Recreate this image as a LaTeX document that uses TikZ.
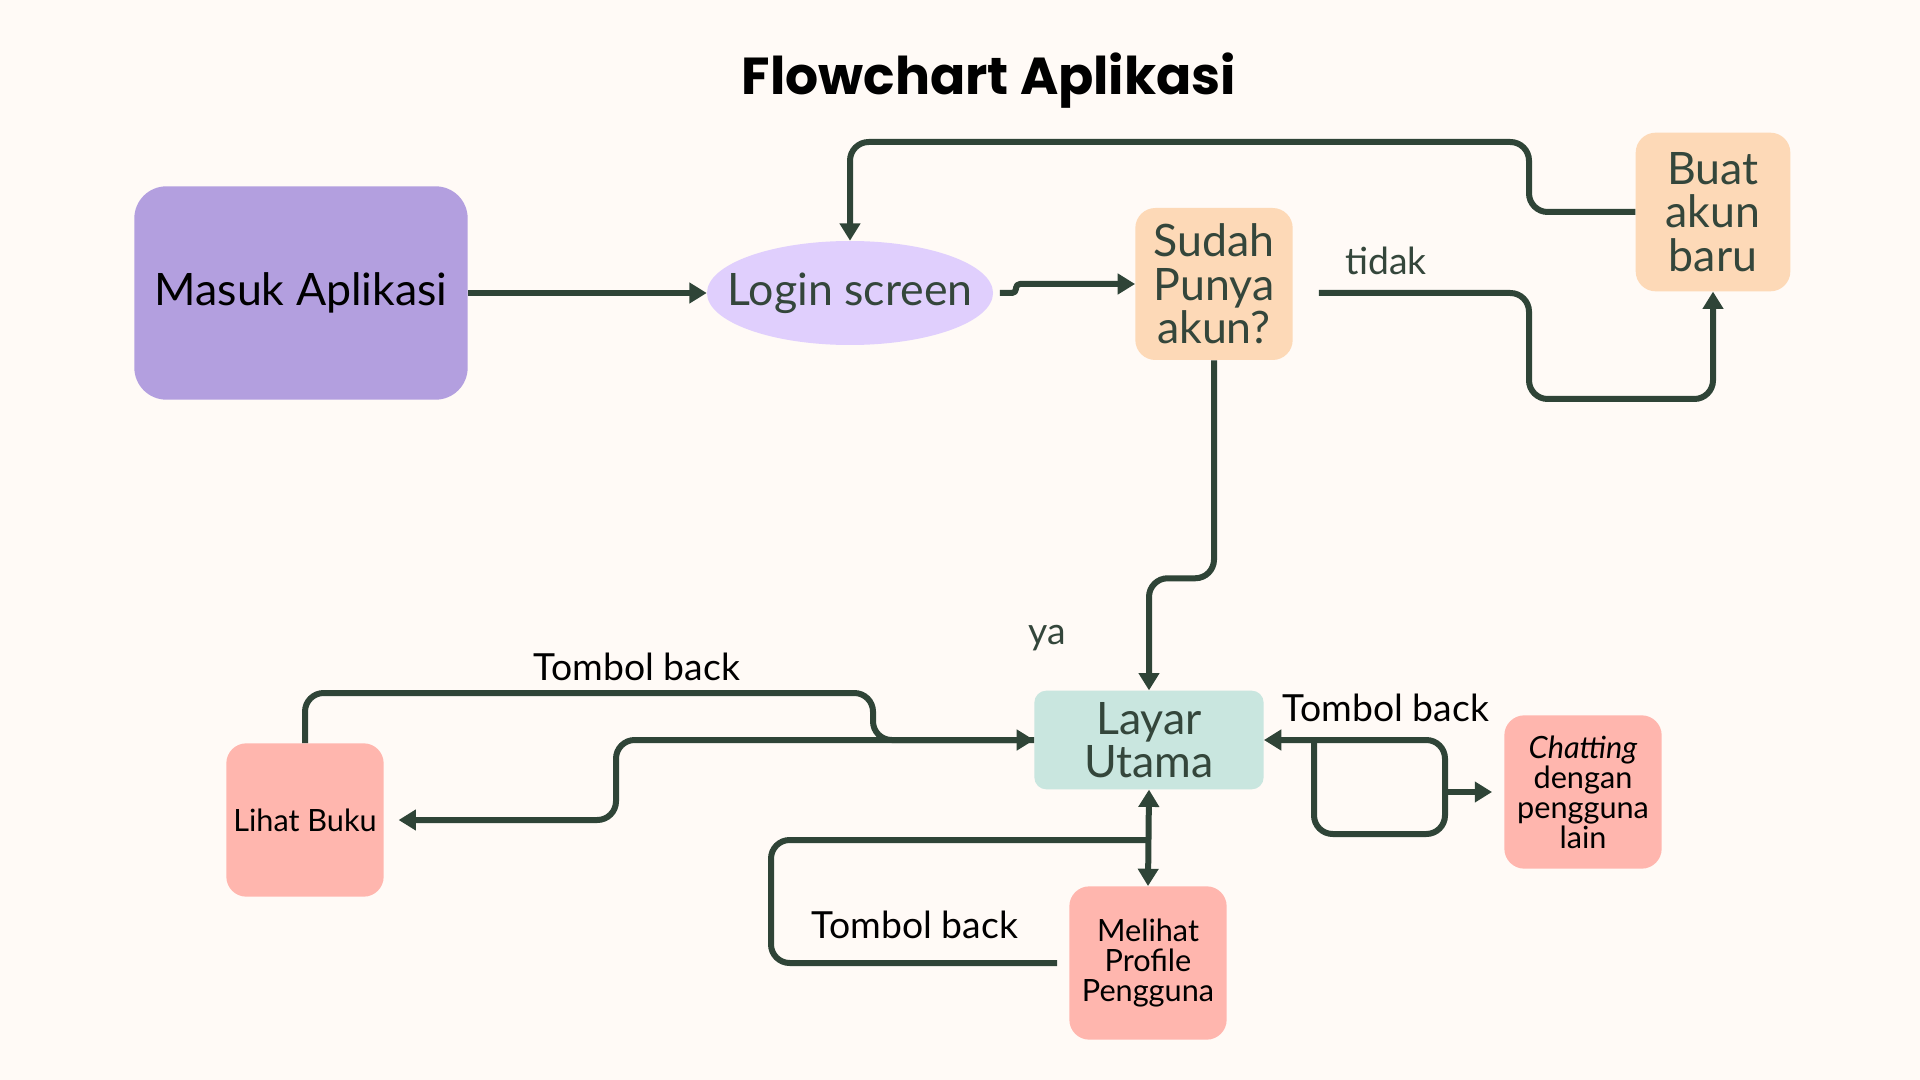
\documentclass[tikz,border=0pt]{standalone}
\usepackage{fontspec}
\setmainfont{Lato}
\newfontfamily\titlefont{Poppins}
\usetikzlibrary{shapes.geometric,arrows.meta}
\definecolor{bgcol}{HTML}{FFFAF6}
\definecolor{linecol}{HTML}{2F4437}
\definecolor{txtcol}{HTML}{34463B}
\definecolor{purplecol}{HTML}{B39FDF}
\definecolor{lavcol}{HTML}{E0CFFD}
\definecolor{peachcol}{HTML}{FDD9B7}
\definecolor{mintcol}{HTML}{C9E6DF}
\definecolor{salmoncol}{HTML}{FFB6AE}
\begin{document}
\begin{tikzpicture}[x=0.75pt,y=-0.75pt,
  main node/.style={rounded corners=15pt,inner sep=0pt,align=center,text=txtcol,font=\fontsize{33.5}{32.5}\selectfont},
  small node/.style={rounded corners=15pt,inner sep=0pt,align=center,fill=salmoncol,minimum width=118pt,minimum height=115pt,font=\fontsize{23}{22.5}\selectfont},
  label text/.style={font=\fontsize{28}{30}\selectfont},
  flow/.style={line width=4.5pt,draw=linecol,rounded corners=14pt,line join=round},
  arrow/.style={flow,-{Triangle[length=13pt,width=15pt]}}]

  \fill[bgcol] (0,0) rectangle (1920,1080);
  \useasboundingbox (0,0) rectangle (1920,1080);

  \node[font=\titlefont\bfseries\fontsize{39}{42}\selectfont] (title) at (989,81) {Flowchart Aplikasi};

  \node[main node,fill=purplecol,text=black,rounded corners=24pt,minimum width=250pt,minimum height=160pt] (masuk) at (301,293) {Masuk Aplikasi};
  \node[main node,ellipse,fill=lavcol,inner xsep=-16pt,minimum height=78pt] (login) at (850,293) {Login screen};
  \node[main node,fill=peachcol,minimum width=118pt,minimum height=114pt] (sudah) at (1214,284) {Sudah\\Punya\\akun?};
  \node[main node,fill=peachcol,minimum width=116pt,minimum height=119pt] (buat) at (1713,212) {Buat\\akun\\baru};
  \node[main node,fill=mintcol,rounded corners=9pt,minimum width=172pt,minimum height=74pt] (layar) at (1149,740) {Layar\\Utama};
  \node[small node] (lihat) at (305,820) {Lihat Buku};
  \node[small node] (melihat) at (1148,963) {Melihat\\Profile\\Pengguna};
  \node[small node] (chat) at (1583,792) {\textit{Chatting}\\dengan\\pengguna\\lain};

  \coordinate (fork) at (1445,792);
  \coordinate (hub) at (1149,840);

  \draw[arrow] (masuk) -- (login);
  \draw[arrow,rounded corners=3pt] ([xshift=5pt]login.east) -- ++(16,0) |- (sudah.west);
  \draw[arrow] (buat.west) -| (1529,142) -| (login.north);
  \draw[arrow] ([shift={(26,9)}]sudah.east) -| (1529,399) -| (buat.south);
  \draw[arrow] (sudah.south) -- ++(0,218) -| (layar.north);
  \draw[arrow] (lihat.north) |- (873,693) |- (layar.west);
  \draw[arrow] (layar.west) -- (616,740) |- ([xshift=11pt]lihat.east);
  \draw[arrow] (fork) -- ([xshift=-9pt]chat.west);
  \draw[arrow] (fork) |- (layar.east);
  \draw[flow] (1314,740) |- (1445,834) -- (fork);
  \draw[arrow,{Triangle[length=13pt,width=15pt]}-{Triangle[length=13pt,width=15pt]}] (layar.south) -- (melihat.north);
  \draw[flow] ([xshift=-9pt]melihat.west) -| (771,900) |- (hub);

  \node[label text,text=txtcol] (tidak) at (1386,261) {tidak};
  \node[label text,text=txtcol] (ya) at (1047,638) {ya};
  \node[label text] (back1) at (637,667) {Tombol back};
  \node[label text] (back2) at (1386,708) {Tombol back};
  \node[label text] (back3) at (915,925) {Tombol back};
\end{tikzpicture}
\end{document}
